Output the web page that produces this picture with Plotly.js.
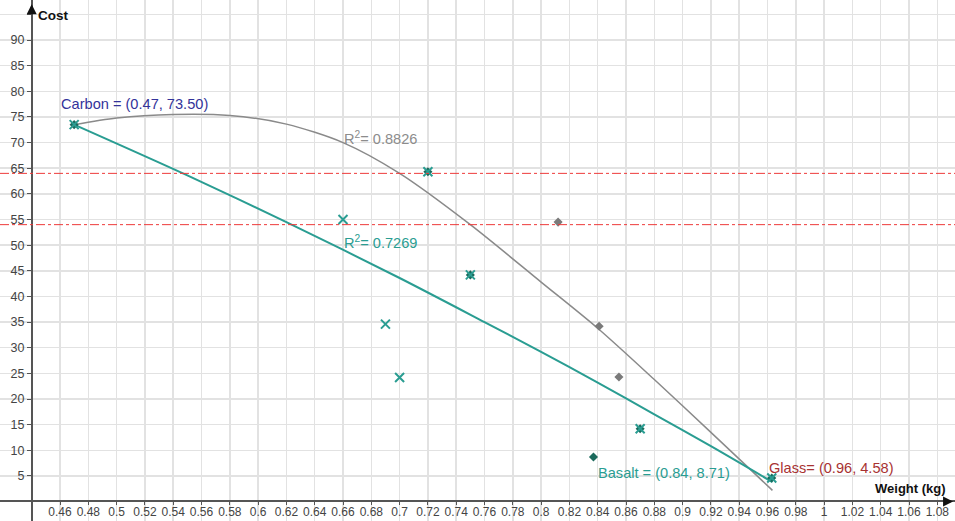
<!DOCTYPE html>
<html>
<head>
<meta charset="utf-8">
<script src="https://cdn.plot.ly/plotly-3.0.1.min.js"></script>
<style>html,body{margin:0;padding:0;background:#fff;}#chart{width:955px;height:521px;}</style>
</head>
<body>
<div id="chart"></div>
<script>
// ---- data ----
const xTickVals = [0.46,0.48,0.5,0.52,0.54,0.56,0.58,0.6,0.62,0.64,0.66,0.68,0.7,0.72,0.74,0.76,0.78,0.8,0.82,0.84,0.86,0.88,0.9,0.92,0.94,0.96,0.98,1,1.02,1.04,1.06,1.08];
const xTickText = ["0.46","0.48","0.5","0.52","0.54","0.56","0.58","0.6","0.62","0.64","0.66","0.68","0.7","0.72","0.74","0.76","0.78","0.8","0.82","0.84","0.86","0.88","0.9","0.92","0.94","0.96","0.98","1","1.02","1.04","1.06","1.08"];
const yTickVals = [5,10,15,20,25,30,35,40,45,50,55,60,65,70,75,80,85,90,95];
const yTickText = ["5","10","15","20","25","30","35","40","45","50","55","60","65","70","75","80","85","90",""];

// teal "x" points
const tealX = [0.47, 0.66, 0.69, 0.70, 0.72, 0.75, 0.87, 0.963];
const tealY = [73.5, 55.0, 34.6, 24.2, 64.3, 44.2, 14.2, 4.6];
// dark filled points
const darkX = [0.47, 0.72, 0.75, 0.87, 0.963, 0.837];
const darkY = [73.5, 64.3, 44.2, 14.2, 4.6, 8.7];
// grey diamond points
const greyX = [0.812, 0.841, 0.855];
const greyY = [54.5, 34.2, 24.3];

// trend curves
const tealFitX = [0.47, 0.55, 0.62, 0.70, 0.76, 0.80, 0.84, 0.88, 0.92, 0.9635];
const tealFitY = [73.5, 63.6, 54.5, 43.6, 35.0, 29.2, 23.2, 17.0, 10.8, 3.8];
const greyFitX = [0.47, 0.50, 0.54, 0.58, 0.62, 0.66, 0.70, 0.75, 0.80, 0.84, 0.88, 0.92, 0.9635];
const greyFitY = [73.5, 74.8, 75.5, 75.3, 73.6, 70.0, 64.0, 54.0, 42.8, 33.8, 23.8, 13.5, 2.2];

// horizontal reference levels
const refLevels = [64, 54];

const tealC = '#2a9d92';
const darkC = '#1b6a5c';
const greyC = '#8a8a8a';
const font = 'Liberation Sans, Arial, sans-serif';

const traces = [
  {x: greyFitX, y: greyFitY, mode: 'lines', line: {color: greyC, width: 1.5, shape: 'spline', smoothing: 0.8}, hoverinfo: 'skip'},
  {x: tealFitX, y: tealFitY, mode: 'lines', line: {color: tealC, width: 2, shape: 'spline', smoothing: 0.8}, hoverinfo: 'skip'},
  {x: greyX, y: greyY, mode: 'markers', marker: {symbol: 'diamond', size: 7, color: '#7a7a7a'}},
  {x: darkX, y: darkY, mode: 'markers', marker: {symbol: 'diamond', size: 7, color: darkC}},
  {x: tealX, y: tealY, mode: 'markers', marker: {symbol: 'x-thin-open', size: 9, color: tealC, line: {color: tealC, width: 2}}}
];

const shapes = refLevels.map(v => ({
  type: 'line', xref: 'paper', yref: 'y', x0: 0, x1: 1, y0: v, y1: v,
  line: {color: '#ee3a3a', width: 1, dash: 'dashdot'}, layer: 'above'
}));

const ann = (text, x, y, color, extra) => Object.assign({
  text: text, x: x, y: y, xref: 'x', yref: 'y', showarrow: false,
  xanchor: 'left', yanchor: 'middle', font: {family: font, size: 14.6, color: color}
}, extra || {});

const layout = {
  width: 955, height: 521,
  margin: {l: 0, r: 0, t: 0, b: 0},
  paper_bgcolor: '#fff', plot_bgcolor: '#fff',
  showlegend: false,
  xaxis: {
    range: [0.4176, 1.0925], anchor: 'free', position: 0.0384,
    tickmode: 'array', tickvals: xTickVals, ticktext: xTickText,
    showgrid: true, gridcolor: '#e2e2e2', gridwidth: 1.5,
    showline: true, linecolor: '#555', linewidth: 2,
    ticks: 'outside', ticklen: 3, tickcolor: '#555',
    ticklabelstandoff: -3,
    zeroline: false,
    tickfont: {family: font, size: 12, color: '#444'}
  },
  yaxis: {
    range: [-3.78, 97.8], anchor: 'free', position: 0.0335,
    tickmode: 'array', tickvals: yTickVals, ticktext: yTickText,
    showgrid: true, gridcolor: '#e2e2e2', gridwidth: 1.5,
    showline: true, linecolor: '#555', linewidth: 2,
    ticks: 'outside', ticklen: 4, tickcolor: '#555',
    zeroline: false,
    tickfont: {family: font, size: 12.5, color: '#444'}
  },
  shapes: shapes,
  annotations: [
    ann('Carbon = (0.47, 73.50)', 0.459, 77.6, '#33339a'),
    ann('R<sup>2</sup>= 0.8826', 0.659, 70.9, '#8c8c8c'),
    ann('R<sup>2</sup>= 0.7269', 0.659, 50.6, tealC),
    ann('Basalt = (0.84, 8.71)', 0.839, 5.5, tealC),
    ann('Glass= (0.96, 4.58)', 0.9595, 6.5, '#a83232'),
    ann('<b>Weight (kg)</b>', 1.0875, 2.65, '#111', {xanchor: 'right', font: {family: font, size: 13, color: '#111'}}),
    ann('<b>Cost</b>', 0.4428, 94.8, '#111', {font: {family: font, size: 13.5, color: '#111'}}),
    {text: '', xref: 'paper', yref: 'y', x: 0.998, y: 0, ax: -10, ay: 0, showarrow: true,
     arrowhead: 2, arrowsize: 1, arrowwidth: 2, arrowcolor: '#111'},
    {text: '', xref: 'x', yref: 'paper', x: 0.44, y: 0.992, ax: 0, ay: 10, showarrow: true,
     arrowhead: 2, arrowsize: 1, arrowwidth: 2, arrowcolor: '#111'}
  ]
};

Plotly.newPlot('chart', traces, layout, {displayModeBar: false, staticPlot: true});
</script>
</body>
</html>
